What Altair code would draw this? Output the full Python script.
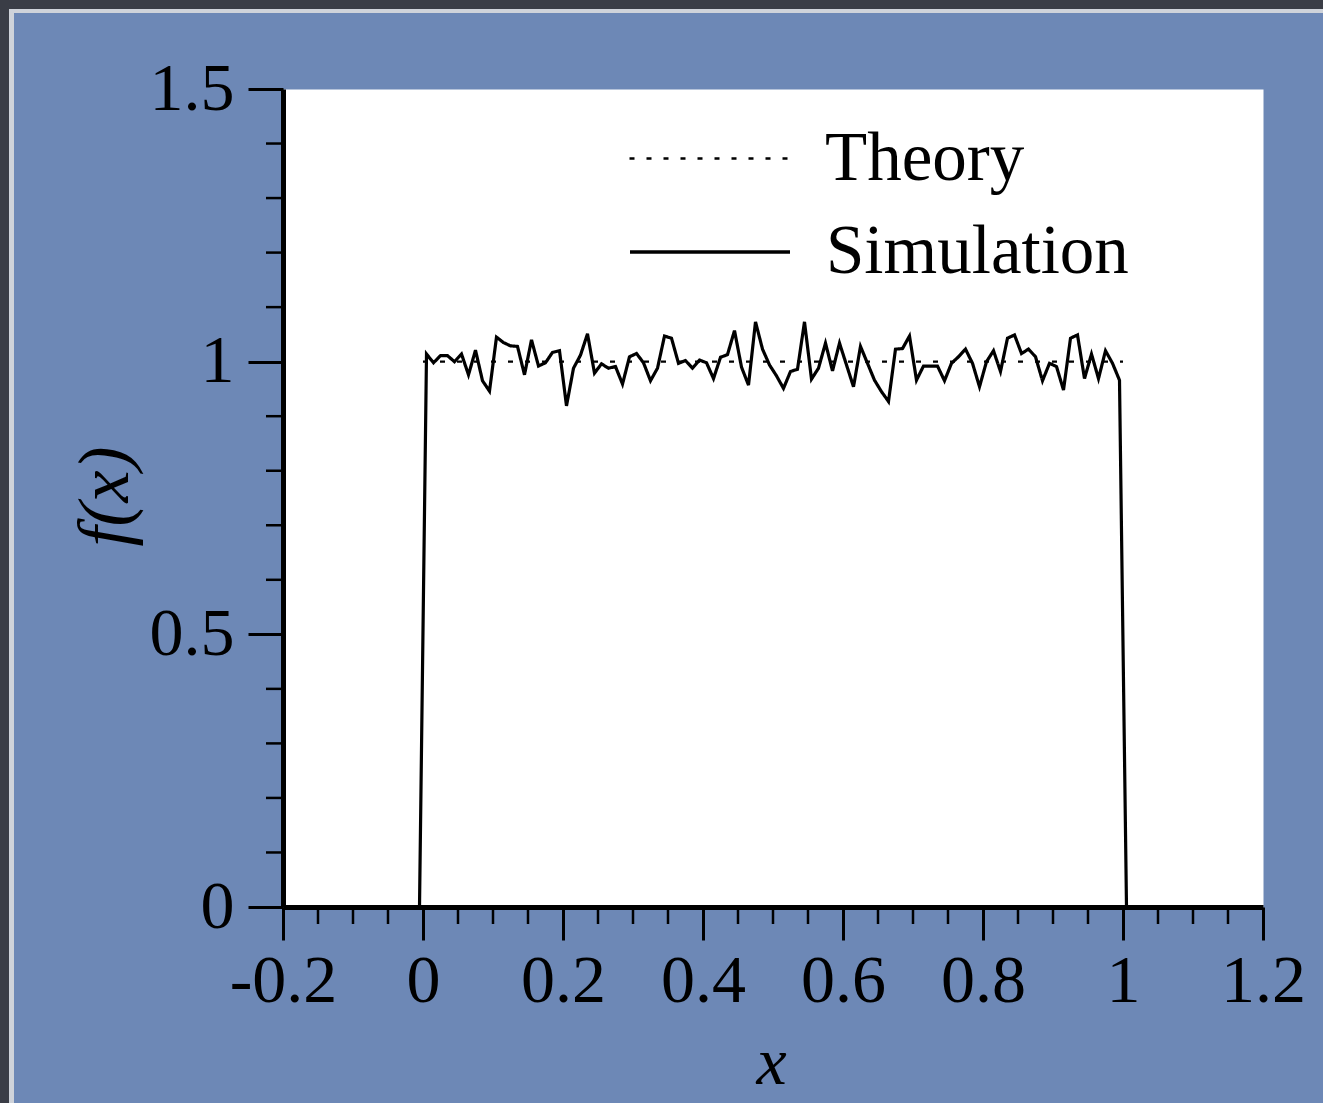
import altair as alt
import pandas as pd

# ---- data ----
sim_values = [
    1.014, 0.998, 1.011, 1.011, 1.000, 1.014, 0.976, 1.021, 0.965, 0.946,
    1.045, 1.035, 1.029, 1.028, 0.976, 1.040, 0.992, 0.998, 1.017, 1.020,
    0.919, 0.988, 1.012, 1.051, 0.979, 0.996, 0.988, 0.991, 0.959, 1.009,
    1.015, 0.998, 0.965, 0.988, 1.047, 1.043, 0.997, 1.002, 0.988, 1.003,
    0.998, 0.969, 1.008, 1.013, 1.057, 0.990, 0.957, 1.073, 1.023, 0.994,
    0.974, 0.951, 0.982, 0.986, 1.073, 0.968, 0.988, 1.034, 0.983, 1.034,
    0.994, 0.954, 1.028, 0.997, 0.966, 0.945, 0.927, 1.023, 1.024, 1.047,
    0.966, 0.992, 0.992, 0.992, 0.965, 0.997, 1.009, 1.023, 0.997, 0.954,
    1.000, 1.020, 0.982, 1.043, 1.049, 1.015, 1.023, 1.009, 0.965, 0.997,
    0.991, 0.948, 1.043, 1.049, 0.969, 1.014, 0.969, 1.020, 0.997, 0.966,
]
# bin centres of width 0.01 plus the two closing zero points
sim_x = [-0.005] + [round(0.005 + 0.01 * i, 3) for i in range(100)] + [1.005]
sim_y = [0.0] + sim_values + [0.0]

theory_x = [0.0, 1.0]
theory_y = [1.0, 1.0]

x_major = [-0.2, 0, 0.2, 0.4, 0.6, 0.8, 1, 1.2]
x_minor = [-0.15, -0.1, -0.05, 0.05, 0.1, 0.15, 0.25, 0.3, 0.35, 0.45, 0.5,
           0.55, 0.65, 0.7, 0.75, 0.85, 0.9, 0.95, 1.05, 1.1, 1.15]
y_major = [0, 0.5, 1, 1.5]
y_minor = [0.1, 0.2, 0.3, 0.4, 0.6, 0.7, 0.8, 0.9, 1.1, 1.2, 1.3, 1.4]

series_names = ["Theory", "Simulation"]

# ---- frames ----
sim_df = pd.DataFrame({"x": sim_x, "y": sim_y, "series": series_names[1]})
th_df = pd.DataFrame({"x": theory_x, "y": theory_y, "series": series_names[0]})
xminor_df = pd.DataFrame({"x": x_minor})
yminor_df = pd.DataFrame({"y": y_minor})

W, H = 980, 818
FONT = "Liberation Serif"
FS = 68

xscale = alt.Scale(domain=[-0.2, 1.2], nice=False, zero=False)
yscale = alt.Scale(domain=[0, 1.5], nice=False)

xaxis = alt.Axis(
    values=x_major, labelExpr="datum.value + ''", title="x",
    titleFont=FONT, titleFontStyle="italic", titleFontWeight="normal", titleFontSize=FS,
    titleColor="black", titleX=488, titleY=176, titleBaseline="alphabetic",
    labelFont=FONT, labelFontSize=FS, labelColor="black", labelPadding=7,
    tickSize=33, tickWidth=3, tickColor="black",
    domainColor="black", domainWidth=5, grid=False, zindex=2,
    labelFlush=False, labelOverlap=False,
)
yaxis = alt.Axis(
    values=y_major, labelExpr="datum.value + ''", title="f(x)",
    titleFont=FONT, titleFontStyle="italic", titleFontWeight="normal", titleFontSize=72,
    titleColor="black", titleX=-156, titleY=407, titleAngle=270,
    titleAlign="center", titleBaseline="alphabetic",
    labelFont=FONT, labelFontSize=FS, labelColor="black", labelPadding=14,
    tickSize=35, tickWidth=3, tickColor="black",
    domainColor="black", domainWidth=5, grid=False, zindex=2,
    labelFlush=False, labelOverlap=False,
)

SYM = 160

def legend(ly, sw):
    return alt.Legend(
        orient="none", legendX=345, legendY=ly, title=None, padding=0,
        symbolType="stroke", symbolSize=SYM * SYM, symbolStrokeWidth=sw,
        symbolStrokeColor="black", labelFont=FONT, labelFontSize=69,
        labelColor="black", labelOffset=34, labelLimit=600,
    )

# ---- decorative slide frame ----
frame_df = pd.DataFrame({"k": [0]})
DARK = "#3a3d46"
LIGHT = "#cfd3da"
frame = alt.layer(
    alt.Chart(frame_df).mark_rect(color=DARK).encode(
        x=alt.value(-283), x2=alt.value(1040), y=alt.value(-89), y2=alt.value(-80)),
    alt.Chart(frame_df).mark_rect(color=DARK).encode(
        x=alt.value(-283), x2=alt.value(-274), y=alt.value(-89), y2=alt.value(1014)),
    alt.Chart(frame_df).mark_rect(color=LIGHT).encode(
        x=alt.value(-274), x2=alt.value(1040), y=alt.value(-80), y2=alt.value(-76)),
    alt.Chart(frame_df).mark_rect(color=LIGHT).encode(
        x=alt.value(-274), x2=alt.value(-269), y=alt.value(-80), y2=alt.value(1014)),
)

theory = alt.Chart(th_df).mark_line(color="black", strokeWidth=2.2).encode(
    x=alt.X("x:Q", scale=xscale, axis=xaxis),
    y=alt.Y("y:Q", scale=yscale, axis=yaxis),
    strokeDash=alt.StrokeDash(
        "series:N",
        scale=alt.Scale(domain=[series_names[0]], range=[[5, 12]]),
        legend=legend(-12, 2.5),
    ),
)
sim = alt.Chart(sim_df).mark_line(color="black", strokeWidth=3.2).encode(
    x=alt.X("x:Q", scale=xscale, axis=xaxis),
    y=alt.Y("y:Q", scale=yscale, axis=yaxis),
    strokeDash=alt.StrokeDash(
        "series:N",
        scale=alt.Scale(domain=[series_names[1]], range=[[1, 0]]),
        legend=legend(81, 3.5),
    ),
)
xminor = alt.Chart(xminor_df).mark_rule(color="black", strokeWidth=2.5).encode(
    x=alt.X("x:Q", scale=xscale, axis=xaxis),
    y=alt.value(H), y2=alt.value(H + 17),
)
yminor = alt.Chart(yminor_df).mark_rule(color="black", strokeWidth=2.5).encode(
    y=alt.Y("y:Q", scale=yscale, axis=yaxis),
    x=alt.value(0), x2=alt.value(-17),
)

chart = alt.layer(frame, theory, sim, yminor, xminor).resolve_scale(
    strokeDash="independent"
).resolve_legend(
    strokeDash="independent"
).properties(
    width=W, height=H,
    autosize=alt.AutoSizeParams(type="none"),
    padding={"left": 283, "top": 89, "right": 60, "bottom": 196},
    background="#6d88b6",
).configure_view(
    fill="white", stroke="transparent"
)

chart.save("out.html", embed_options={"renderer": "svg", "actions": False})
